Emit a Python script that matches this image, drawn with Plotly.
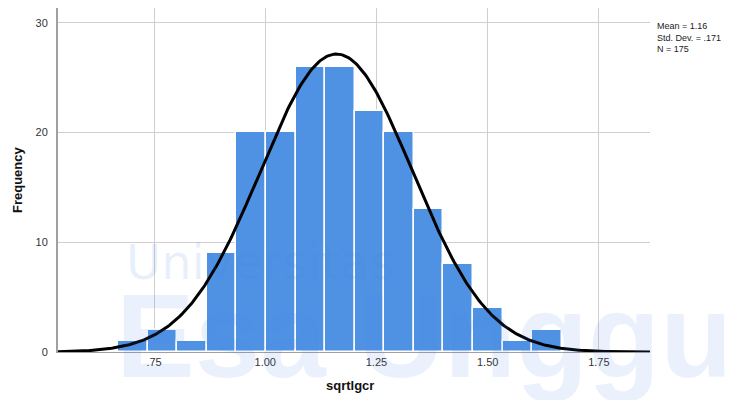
import numpy as np
import plotly.graph_objects as go

# ---- data ----
counts = [1, 2, 1, 9, 20, 20, 26, 26, 22, 20, 13, 8, 4, 1, 2]
bin_start = 0.669
bin_width = 0.0665
mean_val = 1.16
sd_val = 0.171
n_val = 175
x_tickvals = [0.75, 1.00, 1.25, 1.50, 1.75]
x_ticktext = [".75", "1.00", "1.25", "1.50", "1.75"]
y_tickvals = [0, 10, 20, 30]
x_title = "sqrtlgcr"
y_title = "Frequency"

centers = [bin_start + bin_width * (i + 0.5) for i in range(len(counts))]

x_min, x_max = 0.534, 1.865
xs = np.linspace(x_min, x_max, 400)
ys = n_val * bin_width / (sd_val * np.sqrt(2 * np.pi)) * np.exp(-0.5 * ((xs - mean_val) / sd_val) ** 2)

# page is rendered with an 8px body margin
OFF = 8
W, H = 736, 400
ML, MR, MT, MB = 50, 94, 0, 56
plot_w = W - ML - MR
plot_h = H - MT - MB


def px(x_page):
    return (x_page - OFF - ML) / plot_w


def py(y_page):
    return (H - MB - (y_page - OFF)) / plot_h


fig = go.Figure()
fig.add_trace(go.Bar(
    x=centers, y=counts, width=[bin_width] * len(counts),
    marker=dict(color="#4f92e3", line=dict(color="white", width=1.5)),
    hoverinfo="skip", showlegend=False,
))
fig.add_trace(go.Scatter(
    x=xs, y=ys, mode="lines",
    line=dict(color="black", width=3),
    hoverinfo="skip", showlegend=False,
))

font_family = "Liberation Sans, Arial, sans-serif"

fig.update_layout(
    width=W, height=H,
    margin=dict(l=ML, r=MR, t=MT, b=MB),
    plot_bgcolor="white", paper_bgcolor="white",
    font=dict(family=font_family, size=11, color="#333333"),
    bargap=0,
    xaxis=dict(
        range=[x_min, x_max], automargin=False,
        tickvals=x_tickvals, ticktext=x_ticktext,
        showgrid=True, gridcolor="#cfcfcf", gridwidth=1,
        showline=True, linecolor="#a0a0a0", linewidth=1,
        ticks="", zeroline=False,
        tickfont=dict(size=11, color="#333333"),
    ),
    yaxis=dict(
        range=[0, 31.34], automargin=False,
        tickvals=y_tickvals,
        showgrid=True, gridcolor="#cfcfcf", gridwidth=1,
        showline=True, linecolor="#a0a0a0", linewidth=2,
        ticks="outside", ticklen=6, tickcolor="rgba(0,0,0,0)", zeroline=False,
        tickfont=dict(size=11, color="#333333"),
    ),
)

# axis titles
fig.add_annotation(
    x=px(350), y=py(385), xref="paper", yref="paper",
    text="<b>" + x_title + "</b>", showarrow=False,
    xanchor="center", yanchor="middle",
    font=dict(size=13, color="#111111", family=font_family),
)
fig.add_annotation(
    x=px(17), y=py(180), xref="paper", yref="paper",
    text="<b>" + y_title + "</b>", showarrow=False, textangle=-90,
    xanchor="center", yanchor="middle",
    font=dict(size=13, color="#111111", family=font_family),
)

# stats box
stats_text = "Mean = 1.16<br>Std. Dev. = .171<br>N = 175"
fig.add_annotation(
    x=px(655), y=py(19), xref="paper", yref="paper", text=stats_text,
    showarrow=False, xanchor="left", yanchor="top", align="left",
    font=dict(size=9, color="#222222", family=font_family),
)

# faint watermark
fig.add_annotation(
    x=px(260), y=py(262), xref="paper", yref="paper",
    text="Universitas", showarrow=False, xanchor="center", yanchor="middle",
    font=dict(size=48, color="rgba(70,130,230,0.12)", family="DejaVu Sans"),
)
fig.add_annotation(
    x=px(440), y=py(336), xref="paper", yref="paper",
    text="<b>Esa Unggul</b>", showarrow=False, xanchor="center", yanchor="middle",
    font=dict(size=118, color="rgba(70,130,230,0.11)", family="Liberation Sans"),
)

fig.write_html("out.html")
